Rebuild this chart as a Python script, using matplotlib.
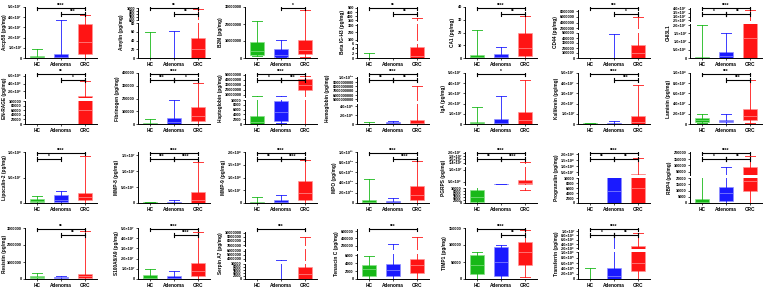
import numpy as np
import matplotlib.pyplot as plt

plt.rcParams['font.family'] = ['Liberation Sans', 'DejaVu Sans']

groups = ['HC', 'Adenoma', 'CRC']
colors = ['#17b817', '#1a1aff', '#ff1414']
light = ['#86e086', '#9090ff', '#ff9494']

# (min, q1, median, q3, max) for HC, Adenoma, CRC
arcp58 = [(0, 0, 0.05e7, 0.15e7, 0.85e7), (0, 0, 0.1e7, 0.4e7, 3.7e7), (0, 0.35e7, 1.6e7, 3.3e7, 4.2e7)]
amylin = [(0, 0, 0, 0, 60), (0, 0, 0, 0, 62), (0, 0, 20, 47, 970)]
b2m = [(1e6, 2e6, 4e6, 9.5e6, 21.5e6), (0.5e6, 0.8e6, 2e6, 5e6, 10.5e6), (0.5e6, 2.5e6, 5e6, 10.5e6, 28e6)]
beta_igh3 = [(0, 0, 0, 0, 2.2), (0, 0, 0, 0, 0), (0, 0, 1, 4.5, 380)]
ca1 = [(0, 0, 1, 2.5, 22), (0, 0, 1, 3, 9), (0, 1.5, 8, 20, 33)]
cd44 = [(0, 0, 0, 0, 0), (0, 0, 0, 0, 4.9e5), (0, 0, 1e5, 2.7e5, 6.0e6)]
chi3l1 = [(0, 0, 0, 0.05e7, 2.0e7), (0, 0, 0.1e7, 0.35e7, 1.5e7), (0, 0, 1.2e7, 2.2e7, 3.8e7)]

enrage = [(0, 0, 0, 0, 0), (0, 0, 0, 0, 0), (0, 0, 60000, 7e5, 4.8e6)]
fibrinogen = [(0, 0, 3000, 10000, 40000), (0, 0, 15000, 45000, 185000), (0, 20000, 60000, 135000, 325000)]
haptoglobin = [(0, 0, 1000, 3500, 7e6), (500, 1200, 5000, 9800, 8e6), (0, 2.0e7, 3.0e7, 4.2e7, 4.7e7)]
hemoglobin = [(0, 0, 5000, 10000, 50000), (0, 5000, 15000, 35000, 60000), (0, 0, 20000, 80000, 8.1e9)]
iga = [(0, 0, 0.05e7, 0.2e7, 1.7e7), (0, 0, 0.1e7, 0.5e7, 2.7e7), (0, 0, 0.4e7, 1.2e7, 4.3e7)]
kallikrein = [(0, 0, 0.02e7, 0.05e7, 0.1e7), (0, 0, 0.02e7, 0.05e7, 0.3e7), (0, 0, 0.2e7, 0.8e7, 3.8e7)]
laminin = [(0.1e7, 0.3e7, 0.8e7, 1.2e7, 2.0e7), (0, 0.3e7, 0.6e7, 0.8e7, 2.0e7), (0.2e7, 0.8e7, 1.5e7, 3.0e7, 8.6e7)]

lipocalin2 = [(0, 0.1e7, 0.4e7, 0.7e7, 1.4e7), (0, 0.1e7, 0.6e7, 1.5e7, 2.4e7), (0, 0.5e7, 1.2e7, 2.0e7, 9.3e7)]
mmp8 = [(0, 0, 0, 0.02e7, 0.03e7), (0, 0, 0.01e7, 0.03e7, 0.08e7), (0, 0, 0.1e7, 0.33e7, 1.28e7)]
mmp9 = [(0, 0, 0.005e8, 0.02e8, 0.25e8), (0, 0, 0.04e8, 0.1e8, 0.3e8), (0, 0.1e8, 0.4e8, 0.85e8, 1.7e8)]
mpo = [(0, 0, 0.1e10, 0.5e10, 4.7e10), (0, 0, 0.1e10, 0.4e10, 0.9e10), (0, 0.5e10, 1.5e10, 3.4e10, 8.3e10)]
pgrps = [(0, 700, 4000, 8700, 3.7e6), (3.7e6, 3.7e6, 3.75e6, 3.8e6, 3.85e6), (9000, 3.8e6, 4.5e6, 5.6e6, 1.45e7)]
progranulin = [(0, 0, 0, 0, 0), (0, 100, 5000, 2e7, 3.0e7), (0, 0, 6000, 3.3e7, 1.65e8)]
rbp4 = [(0, 0, 1000, 3000, 28000), (0, 1500, 8000, 12500, 85000), (300, 10000, 18000, 85000, 175000)]

resistin = [(0, 50000, 100000, 150000, 380000), (0, 50000, 90000, 120000, 200000), (0, 50000, 150000, 280000, 2.8e6)]
s100a8a9 = [(0, 0, 0.1e7, 0.4e7, 1.0e7), (0, 0, 0.1e7, 0.3e7, 0.8e7), (0, 0.3e7, 0.8e7, 1.55e7, 4.6e7)]
serpina7 = [(0, 0, 0, 0, 0), (0, 0, 0, 0, 3.6e6), (0, 0, 3000, 8100, 9.0e6)]
tenascin = [(0, 800, 2500, 3600, 5800), (0, 800, 2200, 3800, 2.5e5), (0, 1500, 3500, 5200, 4.5e5)]
timp1 = [(0, 15000, 40000, 70000, 80000), (0, 10000, 50000, 95000, 100000), (5000, 40000, 80000, 110000, 145000)]
transferrin = [(0, 0, 0, 0, 4e5), (0, 0, 1e5, 4e5, 8e6), (0, 3e5, 6e5, 3e6, 9e6)]

sci5e7 = [0, 1e7, 2e7, 3e7, 4e7, 5e7]
lo10k = [0, 2000, 4000, 6000, 8000, 10000]

# label, stats, y segments (lo, hi, ticks, style, frac), significance (i, j, stars, level)
panels = [
    ('Arcp58 (pg/mg)', arcp58, [(0, 5e7, sci5e7, 'sci', 1.0)],
     [(0, 2, '****', 0), (1, 2, '***', 1)]),
    ('Amylin (pg/mg)', amylin, [(0, 80, [0, 20, 40, 60, 80], 'plain', 0.68),
                                (600, 1000, [600, 700, 800, 900, 1000], 'plain', 0.24)],
     [(0, 2, '**', 0), (1, 2, '**', 1)]),
    ('B2M (pg/mg)', b2m, [(0, 3e7, [0, 1e7, 2e7, 3e7], 'plain', 1.0)],
     [(1, 2, '*', 0)]),
    ('Beta IG-H3 (pg/mg)', beta_igh3, [(0, 6, [0, 2, 4, 6], 'plain', 0.28),
                                       (90, 310, [100, 200, 300], 'plain', 0.32),
                                       (340, 510, [350, 400, 450, 500], 'plain', 0.28)],
     [(0, 2, '**', 0), (1, 2, '**', 1)]),
    ('CA1 (pg/mg)', ca1, [(0, 40, [0, 10, 20, 30, 40], 'plain', 1.0)],
     [(0, 2, '****', 0), (1, 2, '**', 1)]),
    ('CD44 (pg/mg)', cd44, [(0, 5.1e5, [0, 1e5, 2e5, 3e5, 4e5, 5e5], 'plain', 0.5),
                            (1.5e6, 8.5e6, [2e6, 4e6, 6e6, 8e6], 'plain', 0.38)],
     [(0, 2, '***', 0), (1, 2, '*', 1)]),
    ('CHI3L1', chi3l1, [(0, 2.05e7, [0, 5e6, 1e7, 1.5e7, 2e7], 'sci', 0.66),
                        (2.4e7, 4.1e7, [2.5e7, 3e7, 3.5e7, 4e7], 'sci', 0.26)],
     [(0, 2, '****', 0), (0, 1, '*', 1), (1, 2, '**', 1)]),

    ('EN-RAGE (pg/mg)', enrage, [(0, 1e5, [0, 20000, 40000, 60000, 80000, 100000], 'plain', 0.45),
                                 (2.5e5, 6.5e6, [2e6, 4e6, 6e6], 'sci', 0.47)],
     [(0, 2, '**', 0), (1, 2, '*', 1)]),
    ('Fibrinogen (pg/mg)', fibrinogen, [(0, 4e5, [0, 1e5, 2e5, 3e5, 4e5], 'plain', 1.0)],
     [(0, 2, '****', 0), (0, 1, '***', 1), (1, 2, '*', 1)]),
    ('Haptoglobin (pg/mg)', haptoglobin, [(0, 10000, lo10k, 'plain', 0.47),
                                          (5e6, 5.2e7, [1e7, 2e7, 3e7, 4e7, 5e7], 'plain', 0.45)],
     [(0, 2, '****', 0), (0, 1, '*', 1), (1, 2, '***', 1)]),
    ('Hemoglobin (pg/mg)', hemoglobin, [(0, 4.5e5, [0, 2e5, 4e5], 'sci', 0.39),
                                        (4.6e9, 1.02e10, [5e9, 6e9, 7e9, 8e9, 9e9, 1e10], 'mixed', 0.47)],
     [(0, 2, '****', 0), (0, 1, '**', 1), (1, 2, '**', 1)]),
    ('IgA (pg/mg)', iga, [(0, 5e7, sci5e7, 'sci', 1.0)],
     [(0, 2, '*', 0)]),
    ('Kallikrein (pg/mg)', kallikrein, [(0, 5e7, sci5e7, 'sci', 1.0)],
     [(0, 2, '****', 0), (1, 2, '***', 1)]),
    ('Laminin (pg/mg)', laminin, [(0, 1e8, [0, 2e7, 4e7, 6e7, 8e7, 1e8], 'sci', 1.0)],
     [(0, 2, '***', 0), (1, 2, '***', 1)]),

    ('Lipocalin-2 (pg/mg)', lipocalin2, [(0, 1e8, [0, 5e7, 1e8], 'sci', 1.0)],
     [(0, 2, '****', 0), (0, 1, '*', 1)]),
    ('MMP-8 (pg/mg)', mmp8, [(0, 1.6e7, [0, 5e6, 1e7, 1.5e7], 'sci', 1.0)],
     [(0, 2, '****', 0), (0, 1, '***', 1), (1, 2, '****', 1)]),
    ('MMP-9 (pg/mg)', mmp9, [(0, 2e8, [0, 5e7, 1e8, 1.5e8, 2e8], 'sci', 1.0)],
     [(0, 2, '****', 0), (0, 1, '**', 1), (1, 2, '****', 1)]),
    ('MPO (pg/mg)', mpo, [(0, 1e11, [0, 2e10, 4e10, 6e10, 8e10, 1e11], 'sci', 1.0)],
     [(0, 2, '****', 0), (1, 2, '****', 1)]),
    ('PGRPS (pg/mg)', pgrps, [(0, 10000, lo10k, 'plain', 0.29),
                              (3.5e6, 1.1e7, [5e6, 1e7], 'sci', 0.35),
                              (1.3e7, 2.05e7, [1.4e7, 1.6e7, 1.8e7, 2.0e7], 'sci', 0.24)],
     [(0, 2, '****', 0), (0, 1, '**', 1), (1, 2, '****', 1)]),
    ('Progranulin (pg/mg)', progranulin, [(0, 10000, lo10k, 'plain', 0.49),
                                          (2.8e7, 2.1e8, [5e7, 1e8, 1.5e8, 2e8], 'sci', 0.43)],
     [(0, 2, '****', 0), (0, 1, '**', 1), (1, 2, '**', 1)]),
    ('RBP4 (pg/mg)', rbp4, [(0, 20000, [0, 5000, 10000, 15000, 20000], 'plain', 0.49),
                            (25000, 205000, [50000, 100000, 150000, 200000], 'plain', 0.45)],
     [(0, 2, '****', 0), (0, 1, '*', 1), (1, 2, '**', 1)]),

    ('Resistin (pg/mg)', resistin, [(0, 3e6, [0, 1e6, 2e6, 3e6], 'plain', 1.0)],
     [(0, 2, '**', 0), (1, 2, '**', 1)]),
    ('S100A8/A9 (pg/mg)', s100a8a9, [(0, 5e7, sci5e7, 'sci', 1.0)],
     [(0, 2, '****', 0), (1, 2, '****', 1)]),
    ('Serpin A7 (pg/mg)', serpina7, [(0, 10000, lo10k, 'plain', 0.3),
                                     (3.5e6, 6.5e6, [4e6, 5e6, 6e6], 'plain', 0.23),
                                     (6.8e6, 1.02e7, [7e6, 8e6, 9e6, 1e7], 'plain', 0.27)],
     [(0, 2, '***', 0)]),
    ('Tenascin C (pg/mg)', tenascin, [(0, 6500, [0, 2000, 4000, 6000], 'plain', 0.5),
                                      (6.5e4, 6.6e5, [2e5, 4e5, 6e5], 'plain', 0.42)],
     [(0, 2, '***', 0)]),
    ('TIMP1 (pg/mg)', timp1, [(0, 150000, [0, 50000, 100000, 150000], 'plain', 1.0)],
     [(0, 2, '****', 0), (1, 2, '**', 1)]),
    ('Transferrin (pg/mg)', transferrin, [(0, 1e6, [0, 2e5, 4e5, 6e5, 8e5, 1e6], 'sci', 0.52),
                                          (1.5e6, 1.1e7, [2e6, 4e6, 6e6, 8e6, 1e7], 'sci', 0.4)],
     [(0, 2, '****', 0), (0, 1, '*', 1), (1, 2, '**', 1)]),
]

SUP = str.maketrans('0123456789-', '⁰¹²³⁴⁵⁶⁷⁸⁹⁻')


def fmt(v, style):
    if v == 0:
        return '0'
    if style == 'plain' or (style == 'mixed' and v < 1e10):
        return f'{v:.0f}'
    e = int(np.floor(np.log10(v) + 1e-9))
    m = v / 10 ** e
    return f'{m:.1f}×10' + str(e).translate(SUP)


W, H = 768, 289
fig = plt.figure(figsize=(W / 100, H / 100), dpi=100)
col_left = [25, 138, 245, 357, 465, 578, 690]
row_bottom = [58, 124, 203, 279]
pw, ph = 72, 51
gap = 0.06
bw, cap = 0.62, 0.2

info = []
for n, (label, stats, segs, sig) in enumerate(panels):
    r, c = divmod(n, 7)
    l = col_left[c] / W
    b = 1 - row_bottom[r] / H
    w = pw / W
    h = ph / H
    y = b
    seg_axes = []
    for s, (lo, hi, ticks, style, frac) in enumerate(segs):
        ax = fig.add_axes([l, y, w, frac * h])
        y += (frac + gap) * h
        ax.set_xlim(-0.5, 2.5)
        ax.set_ylim(lo, hi)
        for k, (mn, q1, med, q3, mx) in enumerate(stats):
            ax.plot([k, k], [mn, q1], color=colors[k], lw=0.7, alpha=0.85)
            ax.plot([k, k], [q3, mx], color=colors[k], lw=0.7, alpha=0.85)
            ax.plot([k - cap, k + cap], [mx, mx], color=colors[k], lw=0.7, alpha=0.85)
            ax.plot([k - cap, k + cap], [mn, mn], color=colors[k], lw=0.7, alpha=0.85)
            ax.bar(k, q3 - q1, bottom=q1, width=bw, color=colors[k],
                   edgecolor=light[k], linewidth=0.5)
            ax.plot([k - bw / 2, k + bw / 2], [med, med], color=light[k], lw=0.5)
        ax.set_yticks(ticks)
        ax.set_yticklabels([fmt(t, style) for t in ticks], fontweight='bold')
        for sp in ['top', 'right']:
            ax.spines[sp].set_visible(False)
        ax.spines['left'].set_linewidth(0.7)
        ax.spines['bottom'].set_linewidth(0.7)
        ax.tick_params(axis='y', labelsize=2.8, length=1.5, width=0.5, pad=0.8)
        if s == 0:
            ax.set_xticks([0, 1, 2])
            ax.set_xticklabels(groups, fontsize=3.4, fontweight='bold')
            ax.tick_params(axis='x', length=1.5, width=0.5, pad=1.5)
        else:
            ax.set_xticks([])
            ax.spines['bottom'].set_visible(False)
        ax.patch.set_alpha(0)
        seg_axes.append(ax)

    ov = fig.add_axes([l, b, w, h])
    ov.set_xlim(-0.5, 2.5)
    ov.set_ylim(0, 1)
    ov.axis('off')
    for i, j, stars, lev in sig:
        yy = [0.975, 0.86][lev]
        ov.plot([i, j], [yy, yy], color='black', lw=0.8)
        ov.plot([i, i], [yy - 0.035, yy + 0.035], color='black', lw=0.8)
        ov.plot([j, j], [yy - 0.035, yy + 0.035], color='black', lw=0.8)
        ov.text((i + j) / 2, yy + 0.005, stars, ha='center', va='bottom',
                fontsize=3.4, fontweight='bold')
    info.append((seg_axes, label, b, h))

fig.canvas.draw()
rend = fig.canvas.get_renderer()
for seg_axes, label, b, h in info:
    x0 = min(t.get_window_extent(rend).x0 for ax in seg_axes
             for t in ax.get_yticklabels() if t.get_text())
    fig.text(max(x0 / W - 0.003, 0.009), b + h / 2, label, rotation=90, ha='right',
             va='center', fontsize=3.4, fontweight='bold')

fig.savefig('out.png', dpi=100, facecolor='white')
